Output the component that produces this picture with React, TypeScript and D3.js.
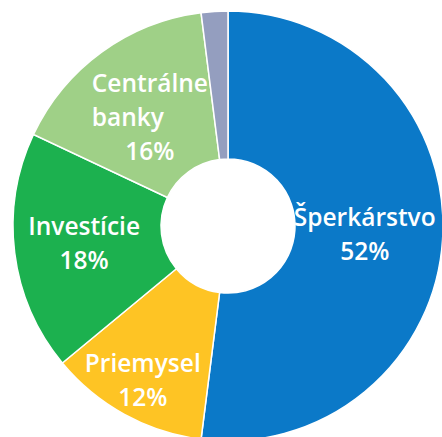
import { useEffect, useRef } from "react";
import * as d3 from "d3";

// Share of gold demand by sector (%)
const sectors = ["Šperkárstvo", "Priemysel", "Investície", "Centrálne banky", "Ostatné"];
const shares = [52, 12, 18, 16, 2];
const labelLines = [["Šperkárstvo", "52%"], ["Priemysel", "12%"], ["Investície", "18%"], ["Centrálne", "banky", "16%"], []];
const colors = ["#0b79c8", "#fec424", "#1cb14f", "#9fd087", "#949ebf"];

export default function App() {
  const svgRef = useRef<SVGSVGElement>(null);

  useEffect(() => {
    if (!svgRef.current) return;
    const W = 442;
    const H = 437;
    const cx = 228;
    const cy = 226;
    const outerR = 215;
    const innerR = 67;

    const svg = d3.select(svgRef.current);
    svg.selectAll("*").remove();
    svg.attr("viewBox", `0 0 ${W} ${H}`);

    const g = svg.append("g").attr("transform", `translate(${cx},${cy})`);

    const pie = d3.pie<number>().sort(null).value((d) => d);
    const arcs = pie(shares);
    const arc = d3.arc<d3.PieArcDatum<number>>().innerRadius(innerR).outerRadius(outerR);

    g.selectAll("path.slice")
      .data(arcs)
      .join("path")
      .attr("class", "slice")
      .attr("d", arc)
      .attr("fill", (_, i) => colors[i])
      .attr("stroke", "#fff")
      .attr("stroke-width", 1.5)
      .append("title")
      .text((d, i) => `${sectors[i]}: ${d.data}%`);

    // label radius per slice, tuned so labels sit where the original has them
    const labelR = [137, 177, 145, 133, 0];
    const lineH = 34;

    arcs.forEach((d, i) => {
      const lines = labelLines[i];
      if (!lines.length) return;
      const la = d3.arc<d3.PieArcDatum<number>>().innerRadius(labelR[i]).outerRadius(labelR[i]);
      const [lx, ly] = la.centroid(d);
      const t = g.append("text")
        .attr("text-anchor", "middle")
        .attr("fill", "#fff")
        .attr("font-family", "'Open Sans', 'Noto Sans', sans-serif")
        .attr("font-size", 24.5)
        .attr("font-weight", 600);
      const top = ly - ((lines.length - 1) * lineH) / 2 + 8;
      let firstW = 0;
      lines.forEach((line, j) => {
        const ts = t.append("tspan")
          .attr("x", lx)
          .attr("y", top + j * lineH)
          .text(line);
        if (j === 0) firstW = (ts.node() as SVGTSpanElement).getComputedTextLength();
        // in the three-line label the second name line is left-aligned with the first
        if (lines.length === 3 && j === 1) {
          ts.attr("text-anchor", "start").attr("x", lx - firstW / 2);
        }
      });
    });
  }, []);

  return (
    <svg
      ref={svgRef}
      width={442}
      height={437}
      style={{ position: "absolute", left: 0, top: 0, background: "#fff" }}
      role="img"
      aria-label="Gold demand by sector donut chart"
    />
  );
}
